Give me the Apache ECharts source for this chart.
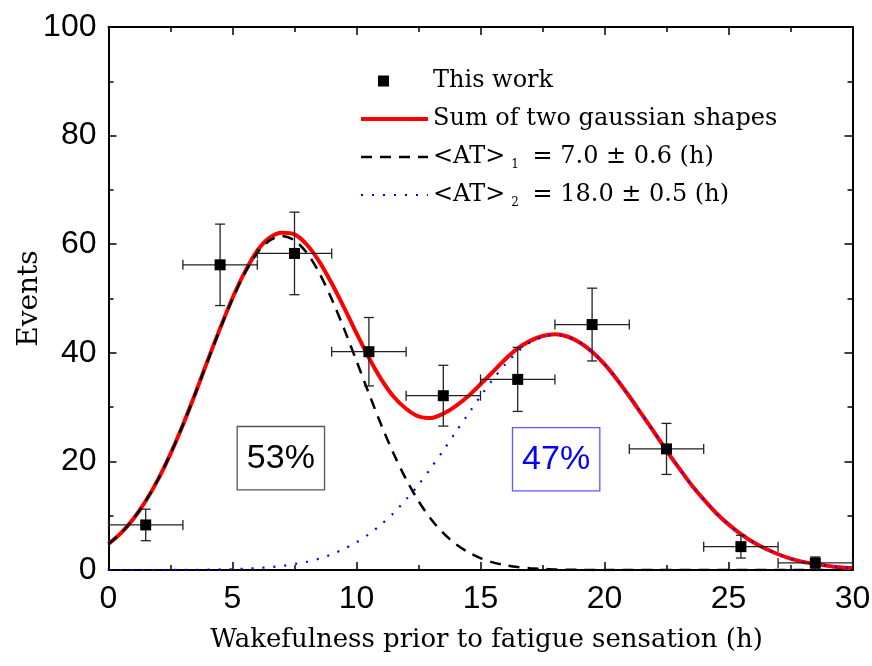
<!DOCTYPE html>
<html>
<head>
<meta charset="utf-8">
<script src="https://cdn.jsdelivr.net/npm/echarts@6/dist/echarts.min.js"></script>
<style>html,body{margin:0;padding:0;background:#fff;}#c{width:872px;height:666px;}</style>
</head>
<body>
<div id="c"></div>
<script>
// Measured points: hour bin centre, events, x half-width, y error
const binX = [1.5, 4.5, 7.5, 10.5, 13.5, 16.5, 19.5, 22.5, 25.5, 28.5];
const events = [8.3, 56.2, 58.3, 40.2, 32.1, 35.1, 45.2, 22.3, 4.3, 1.3];
const xErr = [1.5, 1.5, 1.5, 1.5, 1.5, 1.5, 1.5, 1.5, 1.5, 1.5];
const yErr = [2.9, 7.5, 7.6, 6.3, 5.6, 5.9, 6.7, 4.7, 2.1, 1.1];

// Curves at 0.5 h steps
const curveX = [0,0.5,1,1.5,2,2.5,3,3.5,4,4.5,5,5.5,6,6.5,7,7.5,8,8.5,9,9.5,10,10.5,11,11.5,12,12.5,13,13.5,14,14.5,15,15.5,16,16.5,17,17.5,18,18.5,19,19.5,20,20.5,21,21.5,22,22.5,23,23.5,24,24.5,25,25.5,26,26.5,27,27.5,28,28.5,29,29.5,30];
const sumCurve = [4.8,6.8,9.4,12.7,16.7,21.4,26.7,32.5,38.6,44.5,50.1,54.9,58.8,61.2,62.1,61.8,59.9,56.8,52.8,48.3,43.6,39.1,35.1,31.9,29.7,28.3,28.0,28.8,30.2,32.0,34.2,36.5,38.8,40.8,42.2,43.1,43.4,43.0,41.9,40.2,37.9,35.1,32.0,28.7,25.4,22.0,18.8,15.7,13.0,10.5,8.4,6.6,5.1,3.9,2.9,2.1,1.5,1.1,0.76,0.52,0.35];
const gauss1 = [4.8,6.8,9.4,12.7,16.7,21.4,26.7,32.5,38.5,44.4,49.9,54.7,58.4,60.7,61.5,60.7,58.4,54.7,49.9,44.4,38.5,32.5,26.7,21.4,16.7,12.7,9.4,6.8,4.8,3.3,2.2,1.4,0.9,0.56,0.34,0.2,0.11,0.06,0.03,0.01,0,0,0,0,0,0,0,0,0,0,0,0,0,0,0,0,0,0,0,0,0];
const gauss2 = [0,0,0,0,0,0.01,0.02,0.04,0.06,0.1,0.15,0.23,0.35,0.52,0.76,1.1,1.5,2.1,2.9,3.9,5.1,6.6,8.4,10.5,13.0,15.7,18.8,22.0,25.4,28.7,32.0,35.1,37.9,40.2,41.9,42.9,43.3,42.9,41.9,40.2,37.9,35.1,32.0,28.7,25.4,22.0,18.8,15.7,13.0,10.5,8.4,6.6,5.1,3.9,2.9,2.1,1.5,1.1,0.76,0.52,0.35];

// Fraction boxes
const shareLabels = ['53%', '47%'];
const shareX = [6.95, 18.05];
const shareY = [20.6, 20.4];

const xTickInterval = 5;
const yTickInterval = 20;

const zip = (a, b) => a.map((v, i) => [v, b[i]]);
const serifFont = '"DejaVu Serif", "Liberation Serif", serif';
const sansFont = '"Liberation Sans", Arial, sans-serif';

const chart = echarts.init(document.getElementById('c'), null, {renderer: 'canvas'});

const axisCommon = {
  axisLine: {show: true, onZero: false, lineStyle: {color: '#000', width: 2}},
  axisTick: {show: true, inside: true, length: 8, lineStyle: {color: '#000', width: 1.5}},
  minorTick: {show: true, splitNumber: 2, length: 5, lineStyle: {color: '#000', width: 1.5}},
  splitLine: {show: false}
};

const legendNames = {
  'This work': 'This work',
  'Sum of two gaussian shapes': 'Sum of two gaussian shapes',
  'AT1': '<AT>{sub|1} = 7.0 ± 0.6 (h)',
  'AT2': '<AT>{sub|2} = 18.0 ± 0.5 (h)'
};

chart.setOption({
  animation: false,
  backgroundColor: '#fff',
  grid: {left: 108.5, right: 19.5, top: 27, bottom: 96, containLabel: false, outerBoundsMode: 'none'},
  legend: {
    orient: 'vertical',
    left: 354,
    top: 62,
    itemWidth: 67,
    itemHeight: 12,
    itemGap: 10,
    selectedMode: false,
    data: [
      {name: 'This work', icon: 'path://M0,0L0,0M67,12L67,12M17,0.5h11v11h-11z', itemStyle: {color: '#000', opacity: 1}},
      {name: 'Sum of two gaussian shapes', itemStyle: {opacity: 0}, lineStyle: {width: 4}},
      {name: 'AT1', itemStyle: {opacity: 0}, lineStyle: {width: 2.5}},
      {name: 'AT2', itemStyle: {opacity: 0}, lineStyle: {width: 2.2}}
    ],
    formatter: n => legendNames[n],
    textStyle: {
      fontFamily: serifFont, fontSize: 24, color: '#000', lineHeight: 28, padding: [0, 0, 0, 0],
      rich: {sub: {fontFamily: serifFont, fontSize: 12, verticalAlign: 'bottom', padding: [16, 6, 0, 6], color: '#000'}}
    }
  },
  xAxis: [{
    type: 'value', min: 0, max: 30, interval: xTickInterval, position: 'bottom',
    name: 'Wakefulness prior to fatigue sensation (h)', nameLocation: 'middle', nameGap: 57,
    nameMoveOverlap: false,
    nameTextStyle: {fontFamily: serifFont, fontSize: 26, color: '#000', padding: [0, 0, 0, 12]},
    axisLabel: {fontFamily: sansFont, fontSize: 32, color: '#000', margin: 13},
    ...axisCommon
  }, {
    type: 'value', min: 0, max: 30, interval: xTickInterval, position: 'top',
    axisLabel: {show: false}, ...axisCommon
  }],
  yAxis: [{
    type: 'value', min: 0, max: 100, interval: yTickInterval, position: 'left',
    name: 'Events', nameLocation: 'middle', nameGap: 65, nameRotate: 90,
    nameMoveOverlap: false,
    nameTextStyle: {fontFamily: serifFont, fontSize: 28, color: '#000'},
    axisLabel: {fontFamily: sansFont, fontSize: 32, color: '#000', margin: 12},
    ...axisCommon
  }, {
    type: 'value', min: 0, max: 100, interval: yTickInterval, position: 'right',
    axisLabel: {show: false}, ...axisCommon
  }],
  series: [
    {
      name: 'Sum of two gaussian shapes', type: 'line', data: zip(curveX, sumCurve),
      smooth: 0.3, showSymbol: false, symbol: 'none', z: 3,
      lineStyle: {color: '#ff0000', width: 4}, itemStyle: {color: '#ff0000'}
    },
    {
      name: 'AT1', type: 'line', data: zip(curveX, gauss1),
      smooth: 0.3, showSymbol: false, symbol: 'none', z: 4,
      lineStyle: {color: '#000', width: 2.5, type: [11, 8]}, itemStyle: {color: '#000'}
    },
    {
      name: 'AT2', type: 'line', data: zip(curveX, gauss2),
      smooth: 0.3, showSymbol: false, symbol: 'none', z: 5,
      lineStyle: {color: '#0000ff', width: 2.2, type: [2, 9]}, itemStyle: {color: '#0000ff'}
    },
    {
      name: 'errors', type: 'custom', z: 6,
      data: binX.map((x, i) => [x, events[i], xErr[i], yErr[i]]),
      renderItem: (params, api) => {
        const x = api.value(0), y = api.value(1), xe = api.value(2), ye = api.value(3);
        const l = api.coord([x - xe, y]), r = api.coord([x + xe, y]);
        const t = api.coord([x, y + ye]), b = api.coord([x, y - ye]);
        const cap = 5;
        const st = {stroke: '#222', lineWidth: 1.3};
        const ln = (x1, y1, x2, y2) => ({type: 'line', shape: {x1, y1, x2, y2}, style: st});
        return {type: 'group', children: [
          ln(l[0], l[1], r[0], r[1]),
          ln(l[0], l[1] - cap, l[0], l[1] + cap),
          ln(r[0], r[1] - cap, r[0], r[1] + cap),
          ln(t[0], t[1], b[0], b[1]),
          ln(t[0] - cap, t[1], t[0] + cap, t[1]),
          ln(b[0] - cap, b[1], b[0] + cap, b[1])
        ]};
      }
    },
    {
      name: 'This work', type: 'scatter', data: zip(binX, events), z: 7,
      symbol: 'rect', symbolSize: 11, itemStyle: {color: '#000', opacity: 1}
    },
    {
      name: 'shares', type: 'scatter', z: 8, symbolSize: 0, silent: true,
      itemStyle: {opacity: 1},
      data: shareLabels.map((s, i) => ({
        value: [shareX[i], shareY[i]],
        label: {
          show: true, position: 'inside', formatter: s,
          fontFamily: sansFont, fontSize: 34,
          color: i === 0 ? '#000' : '#0000ff',
          borderColor: i === 0 ? '#555' : '#5a5aff', borderWidth: 1.3,
          backgroundColor: '#fff', opacity: 1,
          padding: [16, 9, 12, 9]
        }
      }))
    }
  ]
});
</script>
</body>
</html>
